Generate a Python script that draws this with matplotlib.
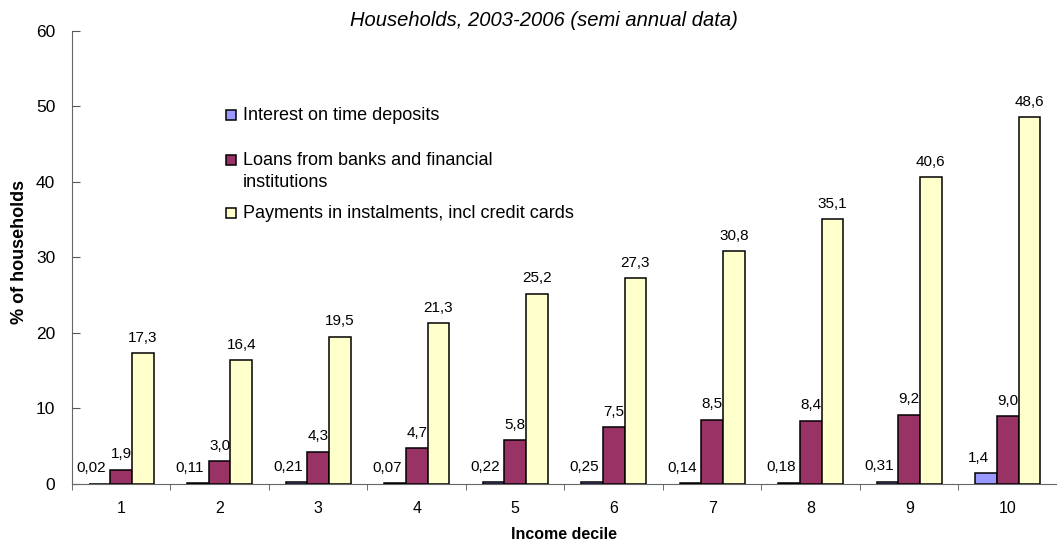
import numpy as np
import matplotlib.pyplot as plt
from matplotlib.patches import Rectangle

plt.rcParams['font.family'] = ['Liberation Sans', 'DejaVu Sans']

# Data
deciles = ['1', '2', '3', '4', '5', '6', '7', '8', '9', '10']
interest = [0.02, 0.11, 0.21, 0.07, 0.22, 0.25, 0.14, 0.18, 0.31, 1.4]
loans = [1.9, 3.0, 4.3, 4.7, 5.8, 7.5, 8.5, 8.4, 9.2, 9.0]
instalments = [17.3, 16.4, 19.5, 21.3, 25.2, 27.3, 30.8, 35.1, 40.6, 48.6]

series = [
    ("Interest on time deposits", interest, '#9999FF'),
    ("Loans from banks and financial\ninstitutions", loans, '#993366'),
    ("Payments in instalments, incl credit cards", instalments, '#FFFFCC'),
]


def fmt(v):
    s = f"{v:.2f}" if v < 1 else f"{v:.1f}"
    return s.replace('.', ',')


fig = plt.figure(figsize=(10.57, 5.41), dpi=100)
ax = fig.add_axes([0.068, 0.1054, 0.932, 0.8373])

x = np.arange(len(deciles))
w = 0.22
for i, (name, vals, col) in enumerate(series):
    xs = x + (i - 1) * w
    ax.bar(xs, vals, w, color=col, edgecolor='black', linewidth=1.1, zorder=3)
    for xi, v in zip(xs, vals):
        dx = -0.08 if i == 0 else 0
        ax.annotate(fmt(v), (xi + dx, v), xytext=(0, 6), textcoords='offset points',
                    ha='center', va='bottom', fontsize=11)

ax.set_xlim(-0.5, len(deciles) - 0.5)
ax.set_ylim(0, 60)
ax.set_yticks(range(0, 61, 10))
ax.set_xticks(x)
ax.set_xticklabels(deciles, fontsize=11.5)
ax.set_xticks(np.arange(-0.5, len(deciles)), minor=True)
ax.tick_params(axis='x', which='major', length=0, pad=12)
ax.tick_params(axis='x', which='minor', length=4, color='#555555')
ax.tick_params(axis='y', labelsize=12.5, length=6, direction='in', pad=12,
               color='#555555')
for s in ['top', 'right']:
    ax.spines[s].set_visible(False)
ax.spines['left'].set_color('#666666')
ax.spines['bottom'].set_color('#666666')

ax.set_ylabel('% of households', fontsize=13, fontweight='bold')
ax.yaxis.set_label_coords(-0.045, 0.512)
ax.set_xlabel('Income decile', fontsize=11.5, fontweight='bold', labelpad=8)
fig.text(0.515, 0.962, 'Households, 2003-2006 (semi annual data)', ha='center',
         va='center', fontsize=14.5, style='italic')

# legend drawn by hand to keep the handles on the first text line
leg_y = [1 - 115 / 541, 1 - 160 / 541, 1 - 213 / 541]
for (name, vals, col), yy in zip(series, leg_y):
    fig.patches.append(Rectangle((226 / 1057, yy - 0.0095), 10 / 1057, 0.019,
                                 facecolor=col, edgecolor='black', linewidth=1.1,
                                 transform=fig.transFigure, figure=fig))
    fig.text(243 / 1057, yy + 0.014, name, ha='left', va='top', fontsize=13,
             linespacing=1.35)

fig.savefig('out.png', dpi=100)
